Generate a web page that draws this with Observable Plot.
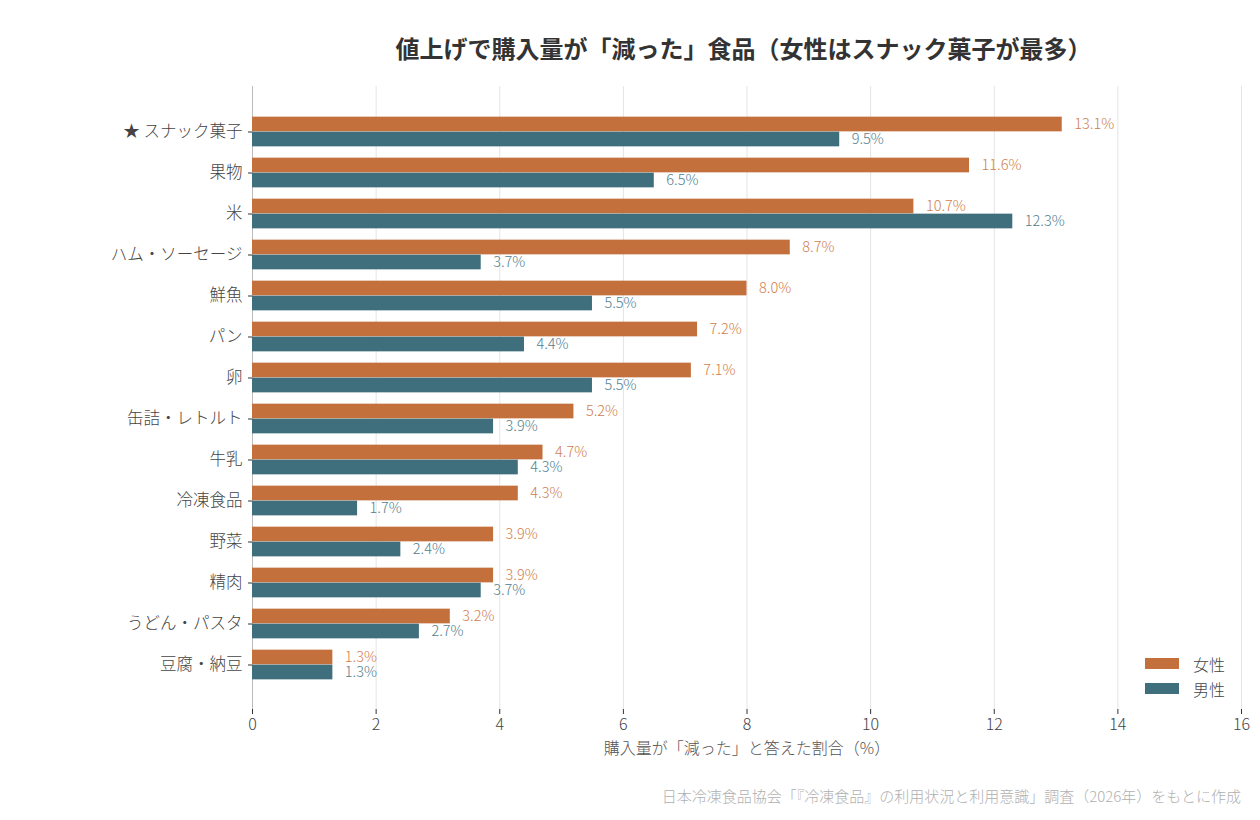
<!DOCTYPE html>
<html lang="ja">
<head>
<meta charset="utf-8">
<script src="https://cdn.jsdelivr.net/npm/d3@7"></script>
<script src="https://cdn.jsdelivr.net/npm/@observablehq/plot@0.6"></script>
<style>
  html, body { margin: 0; padding: 0; background: #fff; }
  body { width: 1260px; height: 820px; position: relative; font-family: "Noto Sans CJK JP", "Noto Sans", sans-serif; }
  #title { position: absolute; left: 244px; width: 999px; top: 31px; text-align: center; font-size: 24px; font-weight: bold; color: #333; line-height: 34px; }
  #chart { position: absolute; left: 0; top: 70px; }
  #caption { position: absolute; right: 19px; top: 785px; font-size: 15px; color: #b0b0b0; font-weight: 300; }
  .legend { position: absolute; left: 1145px; font-size: 16px; color: #444; font-weight: 300; }
  .legend span.sw { display: inline-block; width: 34px; height: 11px; vertical-align: middle; margin-right: 14px; }
  .legend span.lb { vertical-align: middle; }
</style>
</head>
<body>
<div id="title">値上げで購入量が「減った」食品（女性はスナック菓子が最多）</div>
<div id="chart"></div>
<div class="legend" style="top:649px"><span class="sw" style="background:#C4703C"></span><span class="lb">女性</span></div>
<div class="legend" style="top:674px"><span class="sw" style="background:#3F6F7D"></span><span class="lb">男性</span></div>
<div id="caption">日本冷凍食品協会「『冷凍食品』の利用状況と利用意識」調査（2026年）をもとに作成</div>
<script>
const categories = ["★ スナック菓子","果物","米","ハム・ソーセージ","鮮魚","パン","卵","缶詰・レトルト","牛乳","冷凍食品","野菜","精肉","うどん・パスタ","豆腐・納豆"];
const women = [13.1, 11.6, 10.7, 8.7, 8.0, 7.2, 7.1, 5.2, 4.7, 4.3, 3.9, 3.9, 3.2, 1.3];
const men = [9.5, 6.5, 12.3, 3.7, 5.5, 4.4, 5.5, 3.9, 4.3, 1.7, 2.4, 3.7, 2.7, 1.3];
const xTicks = [0, 2, 4, 6, 8, 10, 12, 14, 16];
const xLabel = "購入量が「減った」と答えた割合（%）";

const wData = categories.map((c, i) => ({category: c, value: women[i]}));
const mData = categories.map((c, i) => ({category: c, value: men[i]}));

const womenColor = "#C4703C", menColor = "#3F6F7D";
const half = 20.65, barH = 15;

const chart = Plot.plot({
  width: 1260,
  height: 700,
  marginTop: 16,
  marginBottom: 61,
  marginLeft: 252,
  marginRight: 19,
  style: {fontFamily: '"Noto Sans CJK JP", "Noto Sans", sans-serif', background: "#fff", fontWeight: 300},
  x: {domain: [0, 16]},
  y: {domain: categories, paddingInner: 0, paddingOuter: 0.54},
  marks: [
    Plot.gridX(xTicks, {stroke: "#e4e4e4", strokeOpacity: 1}),
    Plot.ruleX([0], {stroke: "#bbb"}),
    Plot.barX(wData, {x: "value", y: "category", fill: womenColor, insetTop: half - barH, insetBottom: half}),
    Plot.barX(mData, {x: "value", y: "category", fill: menColor, insetTop: half, insetBottom: half - barH}),
    Plot.text(wData, {x: "value", y: "category", text: d => d.value.toFixed(1) + "%", dx: 12, dy: -7.5, textAnchor: "start", fill: "#D07E4E", fontSize: 14.5}),
    Plot.text(mData, {x: "value", y: "category", text: d => d.value.toFixed(1) + "%", dx: 12, dy: 7.5, textAnchor: "start", fill: "#54808E", fontSize: 14.5}),
    Plot.axisX({ticks: xTicks, line: true, stroke: "#bbb", tickSize: 0, tickFormat: () => "", label: null}),
    Plot.axisX({ticks: xTicks, tickSize: 5, tickPadding: 4, stroke: "#333", fill: "#444", fontSize: 16, label: null}),
    Plot.axisY({tickSize: 4, tickPadding: 6, stroke: "#333", fill: "#444", fontSize: 16.5, label: null}),
    Plot.text([xLabel], {frameAnchor: "bottom", dy: 44, fill: "#555", fontSize: 16})
  ]
});
document.getElementById("chart").appendChild(chart);
</script>
</body>
</html>
